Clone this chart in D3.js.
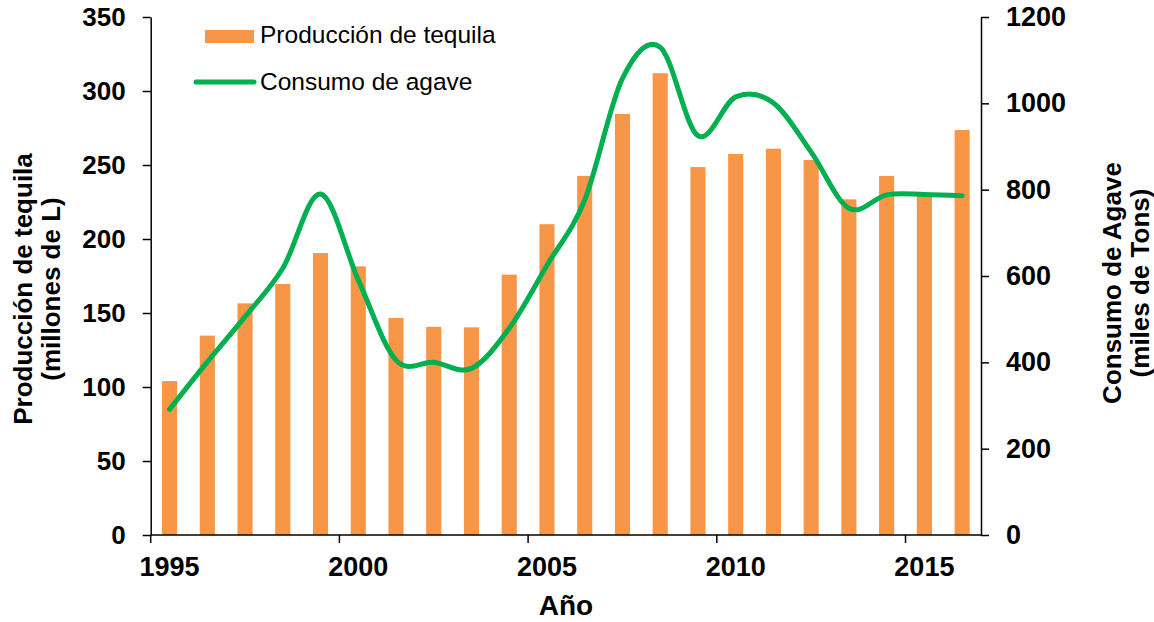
<!DOCTYPE html>
<html>
<head>
<meta charset="utf-8">
<script src="https://cdn.jsdelivr.net/npm/d3@7"></script>
<style>
  body { margin: 0; background: #fff; }
  svg text { font-family: "Liberation Sans", Arial, sans-serif; }
</style>
</head>
<body>
<svg id="chart" width="1154" height="622"></svg>
<script>
// Data
const years = [1995, 1996, 1997, 1998, 1999, 2000, 2001, 2002, 2003, 2004, 2005,
               2006, 2007, 2008, 2009, 2010, 2011, 2012, 2013, 2014, 2015, 2016];
// Producción de tequila (millones de L)
const produccion = [104, 134.7, 156.5, 169.6, 190.5, 181.5, 146.7, 140.7, 140.3, 175.9, 210,
                    242.6, 284.5, 312, 248.6, 257.4, 261, 253.4, 226.8, 242.6, 229.8, 273.6];
// Consumo de agave (miles de Tons)
const consumo = [291, 401, 506, 618, 790, 591, 405, 400, 386, 479, 625,
                 776, 1058, 1130, 925, 1015, 1001, 887, 757, 788, 789, 786];
const xTickYears = [1995, 2000, 2005, 2010, 2015];
const leftTicks = [0, 50, 100, 150, 200, 250, 300, 350];
const rightTicks = [0, 200, 400, 600, 800, 1000, 1200];

const svg = d3.select('#chart');

const plot = { left: 150.7, right: 981, top: 17, bottom: 535 };

// Scales
const x = d3.scaleBand()
  .domain(years)
  .range([plot.left, plot.right])
  .paddingInner(0.6)
  .paddingOuter(0.3);

const yLeft = d3.scaleLinear().domain([0, 350]).range([plot.bottom, plot.top]);
const yRight = d3.scaleLinear().domain([0, 1200]).range([plot.bottom, plot.top]);

// Bars
svg.append('g')
  .selectAll('rect')
  .data(years)
  .enter().append('rect')
  .attr('x', d => x(d))
  .attr('width', x.bandwidth())
  .attr('y', (d, i) => yLeft(produccion[i]))
  .attr('height', (d, i) => plot.bottom - yLeft(produccion[i]))
  .attr('fill', '#f79646');

// Smoothed line
const line = d3.line()
  .x((d, i) => x(years[i]) + x.bandwidth() / 2)
  .y(d => yRight(d))
  .curve(d3.curveCardinal);

svg.append('path')
  .datum(consumo)
  .attr('d', line)
  .attr('fill', 'none')
  .attr('stroke', '#00b050')
  .attr('stroke-width', 5)
  .attr('stroke-linecap', 'round')
  .attr('stroke-linejoin', 'round');

// Axes
function styleAxis(g, size) {
  g.select('.domain').attr('stroke', '#000').attr('stroke-width', 1.5);
  g.selectAll('.tick line').attr('stroke', '#000').attr('stroke-width', 1.5);
  g.selectAll('.tick text')
    .attr('fill', '#000')
    .style('font-size', size + 'px')
    .style('font-weight', 'bold');
}

const xAxis = svg.append('g')
  .attr('transform', `translate(0,${plot.bottom})`)
  .call(d3.axisBottom(x).tickValues(xTickYears).tickSize(8).tickSizeOuter(0).tickPadding(14));
styleAxis(xAxis, 27);
// ticks sit on the left edge of each category
xAxis.selectAll('.tick line')
  .attr('x1', -x.step() / 2)
  .attr('x2', -x.step() / 2);
xAxis.select('.domain').attr('d', `M${plot.left},0H${plot.right}`);

const leftAxis = svg.append('g')
  .attr('transform', `translate(${plot.left},0)`)
  .call(d3.axisLeft(yLeft).tickValues(leftTicks).tickSize(8).tickSizeOuter(0).tickPadding(17));
styleAxis(leftAxis, 26);

const rightAxis = svg.append('g')
  .attr('transform', `translate(${plot.right},0)`)
  .call(d3.axisRight(yRight).tickValues(rightTicks).tickFormat(d3.format('d'))
    .tickSize(8).tickSizeOuter(0).tickPadding(17));
styleAxis(rightAxis, 27);

// Axis titles
svg.append('text')
  .attr('x', 566)
  .attr('y', 615)
  .attr('text-anchor', 'middle')
  .style('font-size', '28px')
  .style('font-weight', 'bold')
  .text('Año');

const leftTitle = svg.append('text')
  .attr('transform', 'translate(0,289) rotate(-90)')
  .attr('text-anchor', 'middle')
  .style('font-size', '26px')
  .style('font-weight', 'bold');
leftTitle.append('tspan').attr('x', 0).attr('y', 32).text('Producción de tequila');
leftTitle.append('tspan').attr('x', 0).attr('y', 60).text('(millones de L)');

const rightTitle = svg.append('text')
  .attr('transform', 'translate(0,283) rotate(-90)')
  .attr('text-anchor', 'middle')
  .style('font-size', '26px')
  .style('font-weight', 'bold');
rightTitle.append('tspan').attr('x', 0).attr('y', 1121).text('Consumo de Agave');
rightTitle.append('tspan').attr('x', 0).attr('y', 1149).text('(miles de Tons)');

// Legend
const legend = svg.append('g');
legend.append('rect')
  .attr('x', 205).attr('y', 30)
  .attr('width', 49).attr('height', 13)
  .attr('fill', '#f79646');
legend.append('text')
  .attr('x', 260).attr('y', 43)
  .style('font-size', '24.5px')
  .text('Producción de tequila');
legend.append('line')
  .attr('x1', 196).attr('x2', 254)
  .attr('y1', 82).attr('y2', 82)
  .attr('stroke', '#00b050')
  .attr('stroke-width', 5)
  .attr('stroke-linecap', 'round');
legend.append('text')
  .attr('x', 260).attr('y', 90)
  .style('font-size', '24.5px')
  .text('Consumo de agave');
</script>
</body>
</html>
